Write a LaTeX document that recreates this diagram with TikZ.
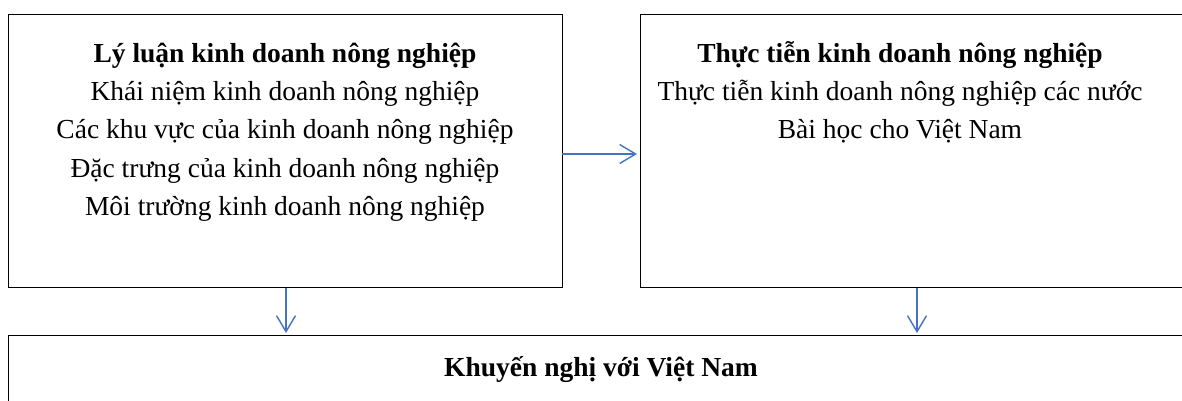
\documentclass[tikz,border=0pt]{standalone}
\usepackage{fontspec}
\setmainfont{Liberation Serif}
\usetikzlibrary{arrows.meta}
\definecolor{arrowblue}{HTML}{4472C4}
\tikzset{
  boxline/.style={draw=black, line width=1.4pt},
  txt/.style={anchor=base, inner sep=0pt, font=\fontsize{27.5}{33}\selectfont},
  ttl/.style={txt, font=\fontsize{27.5}{33}\selectfont\bfseries},
  conn/.style={draw=arrowblue, line width=1.4pt, -{Straight Barb[length=16pt, width=19pt, line width=1.4pt]}}
}
\begin{document}
\begin{tikzpicture}[x=1pt,y=-1pt]
\useasboundingbox (0,0) rectangle (1182,401);
\clip (0,0) rectangle (1182,401);
\node[boxline, minimum width=554pt, minimum height=273pt, anchor=north west, inner sep=0pt] (L) at (8,14) {};
\node[boxline, minimum width=560pt, minimum height=273pt, anchor=north west, inner sep=0pt] (R) at (640,14) {};
\node[boxline, minimum width=1190pt, minimum height=100pt, anchor=north west, inner sep=0pt] (B) at (8,335) {};
% left texts
\node[ttl] (l1) at (285,63) {Lý luận kinh doanh nông nghiệp};
\node[txt] (l2) at (285,101) {Khái niệm kinh doanh nông nghiệp};
\node[txt] (l3) at (285,139) {Các khu vực của kinh doanh nông nghiệp};
\node[txt] (l4) at (285,177) {Đặc trưng của kinh doanh nông nghiệp};
\node[txt] (l5) at (285,215) {Môi trường kinh doanh nông nghiệp};
% right texts
\node[ttl] (r1) at (900,63) {Thực tiễn kinh doanh nông nghiệp};
\node[txt] (r2) at (900,101) {Thực tiễn kinh doanh nông nghiệp các nước};
\node[txt] (r3) at (900,139) {Bài học cho Việt Nam};
% bottom
\node[ttl] (b1) at (601,376) {Khuyến nghị với Việt Nam};
% connectors
\coordinate (hL) at (562,154);
\coordinate (hR) at (637,154);
\draw[conn] (hL) -- (hR);
\coordinate (dL1) at (286,288);
\coordinate (dL2) at (286,333);
\draw[conn] (dL1) -- (dL2);
\coordinate (dR1) at (917,288);
\coordinate (dR2) at (917,333);
\draw[conn] (dR1) -- (dR2);
\end{tikzpicture}
\end{document}
